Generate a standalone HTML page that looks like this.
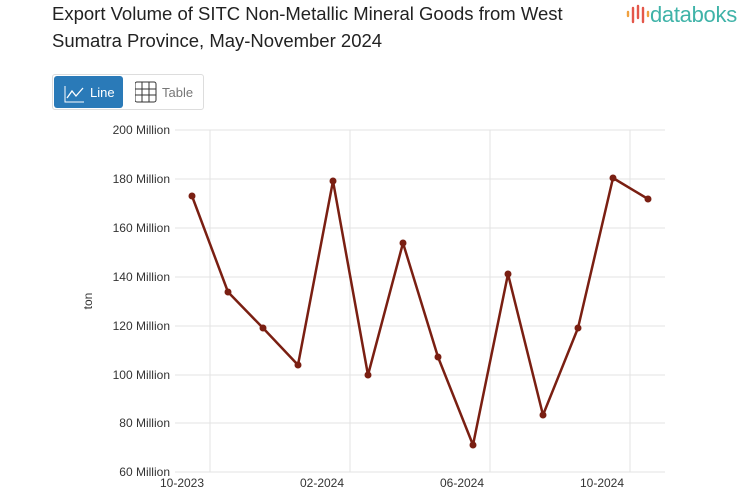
<!DOCTYPE html>
<html><head><meta charset="utf-8"><style>
body{margin:0;background:#fff;width:753px;height:498px;overflow:hidden;font-family:"Liberation Sans",sans-serif;position:relative}
.t{position:absolute;left:52px;top:0px;font-size:18.5px;line-height:27px;color:#222}
.logo{position:absolute;left:626px;top:2px;font-size:22px;color:#3fb3a8;white-space:nowrap;letter-spacing:-0.3px}
.btns{position:absolute;left:52px;top:74px;width:150px;height:34px;border:1px solid #ddd;border-radius:3px}
.b1{position:absolute;left:1px;top:1px;width:69px;height:32px;background:#2a7ab8;border-radius:3px;color:#fff;font-size:13px}
.b2{position:absolute;left:82px;top:0;height:34px;color:#777;font-size:13px}
</style></head><body>
<div class="t">Export Volume of SITC Non-Metallic Mineral Goods from West<br>Sumatra Province, May-November 2024</div>
<div class="logo"><svg width="24" height="22" style="vertical-align:-3px"><g stroke-width="2.4" stroke-linecap="round"><line x1="2" y1="9" x2="2" y2="13" stroke="#f0a040"/><line x1="7" y1="5" x2="7" y2="19" stroke="#e4574a"/><line x1="12" y1="3" x2="12" y2="15" stroke="#e4574a"/><line x1="17" y1="5" x2="17" y2="19" stroke="#e4574a"/><line x1="22" y1="9" x2="22" y2="13" stroke="#f0a040"/></g></svg>databoks</div>
<div class="btns"><div class="b1"><svg width="69" height="32" style="position:absolute;left:0;top:0"><polyline points="11,10 11,26 30,26" fill="none" stroke="#fff"/><polyline points="13,22 18,15 22,20 29,12" fill="none" stroke="#fff" stroke-width="1.3"/><text x="36" y="21" fill="#fff" font-size="13">Line</text></svg></div>
<div class="b2"><svg width="68" height="34"><rect x="0" y="7" width="21" height="20" rx="2" fill="none" stroke="#333"/><path d="M7 7V27M14 7V27M0 14H21M0 20H21" stroke="#333"/><text x="27" y="22" fill="#777" font-size="13">Table</text></svg></div></div>
<svg width="753" height="498" style="position:absolute;left:0;top:0">
<g stroke="#e3e3e3" stroke-width="1">
<line x1="175" x2="665" y1="130" y2="130"/><line x1="175" x2="665" y1="179" y2="179"/><line x1="175" x2="665" y1="228" y2="228"/><line x1="175" x2="665" y1="277" y2="277"/><line x1="175" x2="665" y1="326" y2="326"/><line x1="175" x2="665" y1="375" y2="375"/><line x1="175" x2="665" y1="423" y2="423"/><line x1="175" x2="665" y1="472" y2="472"/>
<line x1="210" x2="210" y1="130" y2="472"/><line x1="350" x2="350" y1="130" y2="472"/><line x1="490" x2="490" y1="130" y2="472"/><line x1="630" x2="630" y1="130" y2="472"/>
</g>
<g font-size="12" fill="#333" text-anchor="end">
<text x="170" y="134">200 Million</text><text x="170" y="183">180 Million</text><text x="170" y="232">160 Million</text><text x="170" y="281">140 Million</text><text x="170" y="330">120 Million</text><text x="170" y="379">100 Million</text><text x="170" y="427">80 Million</text><text x="170" y="476">60 Million</text>
</g>
<g font-size="12" fill="#333" text-anchor="middle">
<text x="182" y="487">10-2023</text><text x="322" y="487">02-2024</text><text x="462" y="487">06-2024</text><text x="602" y="487">10-2024</text>
</g>
<text transform="translate(92,301) rotate(-90)" font-size="12" fill="#333" text-anchor="middle">ton</text>
<polyline fill="none" stroke="#7a1f12" stroke-width="2.5" stroke-linejoin="round" points="192,196 228,292 263,328 298,365 333,181 368,375 403,243 438,357 473,445 508,274 543,415 578,328 613,178 648,199"/>
<g fill="#7a1f12"><circle cx="192" cy="196" r="3.5"/><circle cx="228" cy="292" r="3.5"/><circle cx="263" cy="328" r="3.5"/><circle cx="298" cy="365" r="3.5"/><circle cx="333" cy="181" r="3.5"/><circle cx="368" cy="375" r="3.5"/><circle cx="403" cy="243" r="3.5"/><circle cx="438" cy="357" r="3.5"/><circle cx="473" cy="445" r="3.5"/><circle cx="508" cy="274" r="3.5"/><circle cx="543" cy="415" r="3.5"/><circle cx="578" cy="328" r="3.5"/><circle cx="613" cy="178" r="3.5"/><circle cx="648" cy="199" r="3.5"/></g>
</svg>
</body></html>
